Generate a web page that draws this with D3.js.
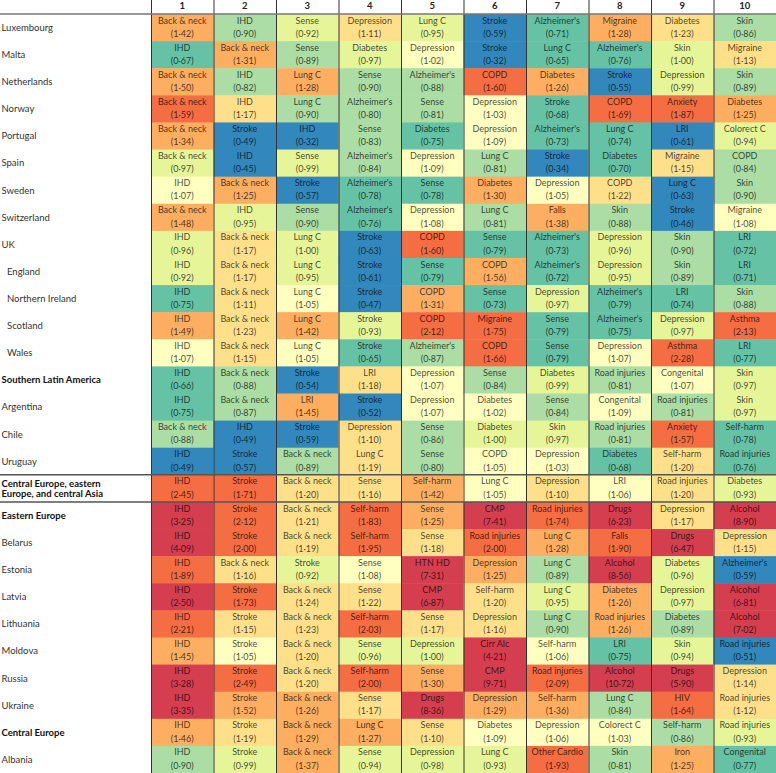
<!DOCTYPE html>
<html><head><meta charset="utf-8">
<script src="https://cdn.jsdelivr.net/npm/d3@7"></script>
<style>body{margin:0;background:#fff}svg{display:block}</style>
</head><body>
<script>
const columns = ["1","2","3","4","5","6","7","8","9","10"];
const locations = ["Luxembourg","Malta","Netherlands","Norway","Portugal","Spain","Sweden","Switzerland","UK","England","Northern Ireland","Scotland","Wales","Southern Latin America","Argentina","Chile","Uruguay","Central Europe, eastern Europe, and central Asia","Eastern Europe","Belarus","Estonia","Latvia","Lithuania","Moldova","Russia","Ukraine","Central Europe","Albania"];
const regionRows = ["Southern Latin America","Central Europe, eastern Europe, and central Asia","Eastern Europe","Central Europe"];
const subnationalRows = ["England","Northern Ireland","Scotland","Wales"];
const causes = [
["Back & neck","IHD","Sense","Depression","Lung C","Stroke","Alzheimer's","Migraine","Diabetes","Skin"],
["IHD","Back & neck","Sense","Diabetes","Depression","Stroke","Lung C","Alzheimer's","Skin","Migraine"],
["Back & neck","IHD","Lung C","Sense","Alzheimer's","COPD","Diabetes","Stroke","Depression","Skin"],
["Back & neck","IHD","Lung C","Alzheimer's","Sense","Depression","Stroke","COPD","Anxiety","Diabetes"],
["Back & neck","Stroke","IHD","Sense","Diabetes","Depression","Alzheimer's","Lung C","LRI","Colorect C"],
["Back & neck","IHD","Sense","Alzheimer's","Depression","Lung C","Stroke","Diabetes","Migraine","COPD"],
["IHD","Back & neck","Stroke","Alzheimer's","Sense","Diabetes","Depression","COPD","Lung C","Skin"],
["Back & neck","IHD","Sense","Alzheimer's","Depression","Lung C","Falls","Skin","Stroke","Migraine"],
["IHD","Back & neck","Lung C","Stroke","COPD","Sense","Alzheimer's","Depression","Skin","LRI"],
["IHD","Back & neck","Lung C","Stroke","Sense","COPD","Alzheimer's","Depression","Skin","LRI"],
["IHD","Back & neck","Lung C","Stroke","COPD","Sense","Depression","Alzheimer's","LRI","Skin"],
["IHD","Back & neck","Lung C","Stroke","COPD","Migraine","Sense","Alzheimer's","Depression","Asthma"],
["IHD","Back & neck","Lung C","Stroke","Alzheimer's","COPD","Sense","Depression","Asthma","LRI"],
["IHD","Back & neck","Stroke","LRI","Depression","Sense","Diabetes","Road injuries","Congenital","Skin"],
["IHD","Back & neck","LRI","Stroke","Depression","Diabetes","Sense","Congenital","Road injuries","Skin"],
["Back & neck","IHD","Stroke","Depression","Sense","Diabetes","Skin","Road injuries","Anxiety","Self-harm"],
["IHD","Stroke","Back & neck","Lung C","Sense","COPD","Depression","Diabetes","Self-harm","Road injuries"],
["IHD","Stroke","Back & neck","Sense","Self-harm","Lung C","Depression","LRI","Road injuries","Diabetes"],
["IHD","Stroke","Back & neck","Self-harm","Sense","CMP","Road injuries","Drugs","Depression","Alcohol"],
["IHD","Stroke","Back & neck","Self-harm","Sense","Road injuries","Lung C","Falls","Drugs","Depression"],
["IHD","Back & neck","Stroke","Sense","HTN HD","Depression","Lung C","Alcohol","Diabetes","Alzheimer's"],
["IHD","Stroke","Back & neck","Sense","CMP","Self-harm","Lung C","Diabetes","Depression","Alcohol"],
["IHD","Stroke","Back & neck","Self-harm","Sense","Depression","Lung C","Road injuries","Diabetes","Alcohol"],
["IHD","Stroke","Back & neck","Sense","Depression","Cirr Alc","Self-harm","LRI","Skin","Road injuries"],
["IHD","Stroke","Back & neck","Self-harm","Sense","CMP","Road injuries","Alcohol","Drugs","Depression"],
["IHD","Stroke","Back & neck","Sense","Drugs","Depression","Self-harm","Lung C","HIV","Road injuries"],
["IHD","Stroke","Back & neck","Lung C","Sense","Diabetes","Depression","Colorect C","Self-harm","Road injuries"],
["IHD","Stroke","Back & neck","Sense","Depression","Lung C","Other Cardio","Skin","Iron","Congenital"]
];
const ratios = [
[1.42,0.90,0.92,1.11,0.95,0.59,0.71,1.28,1.23,0.86],
[0.67,1.31,0.89,0.97,1.02,0.32,0.65,0.76,1.00,1.13],
[1.50,0.82,1.28,0.90,0.88,1.60,1.26,0.55,0.99,0.89],
[1.59,1.17,0.90,0.80,0.81,1.03,0.68,1.69,1.87,1.25],
[1.34,0.49,0.32,0.83,0.75,1.09,0.73,0.74,0.61,0.94],
[0.97,0.45,0.99,0.84,1.09,0.81,0.34,0.70,1.15,0.84],
[1.07,1.25,0.57,0.78,0.78,1.30,1.05,1.22,0.63,0.90],
[1.48,0.95,0.90,0.76,1.08,0.81,1.38,0.88,0.46,1.08],
[0.96,1.17,1.00,0.63,1.60,0.79,0.73,0.96,0.90,0.72],
[0.92,1.17,0.95,0.61,0.79,1.56,0.72,0.95,0.89,0.71],
[0.75,1.11,1.05,0.47,1.31,0.73,0.97,0.79,0.74,0.88],
[1.49,1.23,1.42,0.93,2.12,1.75,0.79,0.75,0.97,2.13],
[1.07,1.15,1.05,0.65,0.87,1.66,0.79,1.07,2.28,0.77],
[0.66,0.88,0.54,1.18,1.07,0.84,0.99,0.81,1.07,0.97],
[0.75,0.87,1.45,0.52,1.07,1.02,0.84,1.09,0.81,0.97],
[0.88,0.49,0.59,1.10,0.86,1.00,0.97,0.81,1.57,0.78],
[0.49,0.57,0.89,1.19,0.80,1.05,1.03,0.68,1.20,0.76],
[2.45,1.71,1.20,1.16,1.42,1.05,1.10,1.06,1.20,0.93],
[3.25,2.12,1.21,1.83,1.25,7.41,1.74,6.23,1.17,8.90],
[4.09,2.00,1.19,1.95,1.18,2.00,1.28,1.90,6.47,1.15],
[1.89,1.16,0.92,1.08,7.31,1.25,0.89,8.56,0.96,0.59],
[2.50,1.73,1.24,1.22,6.87,1.20,0.95,1.26,0.97,6.81],
[2.21,1.15,1.23,2.03,1.17,1.16,0.90,1.26,0.89,7.02],
[1.45,1.05,1.20,0.96,1.00,4.21,1.06,0.75,0.94,0.51],
[3.28,2.49,1.20,2.00,1.30,9.71,2.09,10.72,5.90,1.14],
[3.35,1.52,1.26,1.17,8.36,1.29,1.36,0.84,1.64,1.12],
[1.46,1.19,1.29,1.27,1.10,1.09,1.06,1.03,0.86,0.93],
[0.90,0.99,1.37,0.94,0.98,0.93,1.93,0.81,1.25,0.77]
];

const W = 776, H = 773;
const labelW = 151, headerH = 14;
const font = "Lato, 'Open Sans', sans-serif";
const svg = d3.select("body").append("svg").attr("width", W).attr("height", H)
  .style("font-family", font);

const x = d3.scaleBand().domain(columns).range([labelW, W]);
const y = d3.scaleBand().domain(locations).range([headerH, H]);
const color = d3.scaleThreshold()
  .domain([0.645, 0.795, 0.905, 1.005, 1.095, 1.245, 1.565, 2.495])
  .range(d3.schemeSpectral[9].slice().reverse());
const fmt = v => "(" + d3.format(".2f")(v).replace(".", "\u00b7") + ")";

const cells = [];
locations.forEach((loc, i) => columns.forEach((c, j) => cells.push({loc, col: c, cause: causes[i][j], v: ratios[i][j]})));

const g = svg.append("g");
g.selectAll("rect.cell").data(cells).join("rect").attr("class","cell")
  .attr("x", d => x(d.col)).attr("y", d => y(d.loc))
  .attr("width", x.bandwidth()).attr("height", y.bandwidth() + 0.5)
  .attr("fill", d => color(d.v));

const tg = svg.append("g").attr("text-anchor","middle").attr("font-size", 9).attr("fill","#000").attr("fill-opacity",0.72);
tg.selectAll("text.name").data(cells).join("text").attr("class","name")
  .attr("x", d => x(d.col) + x.bandwidth()/2).attr("y", d => y(d.loc) + 9.6)
  .text(d => d.cause);
tg.selectAll("text.val").data(cells).join("text").attr("class","val")
  .attr("x", d => x(d.col) + x.bandwidth()/2).attr("y", d => y(d.loc) + 22.8)
  .text(d => fmt(d.v));

// column separators
svg.append("g").selectAll("line").data(columns).join("line")
  .attr("x1", d => x(d) + 0.5).attr("x2", d => x(d) + 0.5)
  .attr("y1", 0).attr("y2", H).attr("stroke", "#333").attr("stroke-width", 1);

// header numbers
svg.append("g").selectAll("text").data(columns).join("text")
  .attr("x", d => x(d) + x.bandwidth()/2).attr("y", 9)
  .attr("text-anchor","middle").attr("font-size", 9.5).attr("font-weight","bold").attr("fill","#222")
  .text(d => d);

// header line
svg.append("line").attr("x1",0).attr("x2",W).attr("y1",headerH).attr("y2",headerH)
  .attr("stroke","#777").attr("stroke-width",1.6);

// row labels
const lg = svg.append("g").attr("font-size", 9.5).attr("fill","#333");
locations.forEach(loc => {
  const isReg = regionRows.includes(loc);
  const indent = subnationalRows.includes(loc) ? 7 : 1.5;
  const cy = y(loc) + y.bandwidth()/2;
  const t = lg.append("text").attr("x", indent).attr("font-weight", isReg ? "bold" : "normal").attr("fill", isReg ? "#111" : "#333");
  if (loc.length > 30) {
    const parts = ["Central Europe, eastern", "Europe, and central Asia"];
    t.append("tspan").attr("x", indent).attr("y", cy - 1.6).text(parts[0]);
    t.append("tspan").attr("x", indent).attr("y", cy + 8.6).text(parts[1]);
  } else {
    t.attr("y", cy + 3.4).text(loc);
  }
});

// group separators
const sepRows = ["Central Europe, eastern Europe, and central Asia", "Eastern Europe"];
svg.append("g").selectAll("line").data(sepRows).join("line")
  .attr("x1",0).attr("x2",W).attr("y1", d => y(d)).attr("y2", d => y(d))
  .attr("stroke","#555").attr("stroke-width",1.6);
</script>
</body></html>
